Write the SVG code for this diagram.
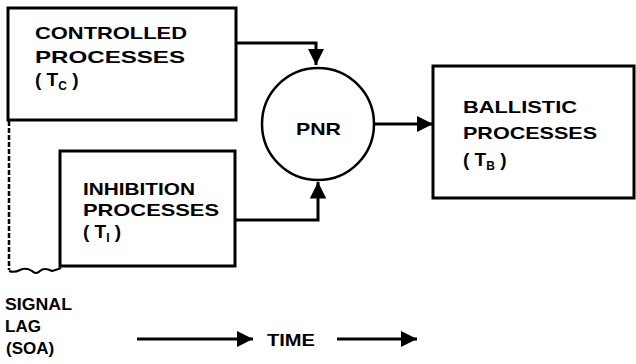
<svg xmlns="http://www.w3.org/2000/svg" width="636" height="364" viewBox="0 0 636 364">
<defs>
<style>
.box{fill:#fff;stroke:#000;stroke-width:3}
.ln{fill:none;stroke:#000;stroke-width:3}
.t{font-family:"Liberation Sans",Arial,sans-serif;font-weight:bold;font-size:17px;fill:#000}
.p{font-size:19px}
.s{font-size:12px}
</style>
<marker id="ah" viewBox="0 0 10 10" refX="10" refY="5" markerWidth="5.5" markerHeight="6" orient="auto" markerUnits="strokeWidth">
<path d="M0,0 L10,5 L0,10 Z" fill="#000"/>
</marker>
</defs>
<rect width="636" height="364" fill="#fff"/>
<g id="connectors">
<path class="ln" d="M236,43 H316 V65" marker-end="url(#ah)"/>
<path class="ln" d="M235,220 H318 V182" marker-end="url(#ah)"/>
<path class="ln" d="M374,124 H433" marker-end="url(#ah)"/>
<path d="M9,121 V270" fill="none" stroke="#000" stroke-width="2.5" stroke-dasharray="5,2"/>
<path d="M9,271 Q14,273 20,270 T32,271 Q36,275 40,271 T52,271 Q56,270 61,268" fill="none" stroke="#000" stroke-width="2"/>
</g>
<g id="controlled">
<rect class="box" x="8" y="8" width="228" height="112"/>
<text class="t" x="35" y="39" textLength="152" lengthAdjust="spacingAndGlyphs">CONTROLLED</text>
<text class="t" x="35" y="63" textLength="150" lengthAdjust="spacingAndGlyphs">PROCESSES</text>
<text class="t p" x="35" y="86">( T<tspan class="s" dy="4">C</tspan><tspan dy="-4"> )</tspan></text>
</g>
<g id="inhibition">
<rect class="box" x="60" y="151" width="175" height="115"/>
<text class="t" x="83" y="195" textLength="112" lengthAdjust="spacingAndGlyphs">INHIBITION</text>
<text class="t" x="83" y="216" textLength="136" lengthAdjust="spacingAndGlyphs">PROCESSES</text>
<text class="t p" x="83" y="238">( T<tspan class="s" dy="4">I</tspan><tspan dy="-4"> )</tspan></text>
</g>
<g id="pnr">
<circle cx="318" cy="124" r="56" fill="#fff" stroke="#000" stroke-width="2.5"/>
<text class="t" x="296" y="135" textLength="45" lengthAdjust="spacingAndGlyphs">PNR</text>
</g>
<g id="ballistic">
<rect class="box" x="433" y="66" width="201" height="132"/>
<text class="t" x="463" y="113" textLength="114" lengthAdjust="spacingAndGlyphs">BALLISTIC</text>
<text class="t" x="463" y="139" textLength="134" lengthAdjust="spacingAndGlyphs">PROCESSES</text>
<text class="t p" x="463" y="166">( T<tspan class="s" dy="4">B</tspan><tspan dy="-4"> )</tspan></text>
</g>
<g id="time">
<text class="t" x="5" y="310" textLength="67" lengthAdjust="spacingAndGlyphs">SIGNAL</text>
<text class="t" x="5" y="332">LAG</text>
<text class="t" x="6" y="354">(SOA)</text>
<path class="ln" d="M137,339 H253" marker-end="url(#ah)"/>
<text class="t" x="267" y="346" textLength="48" lengthAdjust="spacingAndGlyphs">TIME</text>
<path class="ln" d="M337,339 H417" marker-end="url(#ah)"/>
</g>
</svg>
